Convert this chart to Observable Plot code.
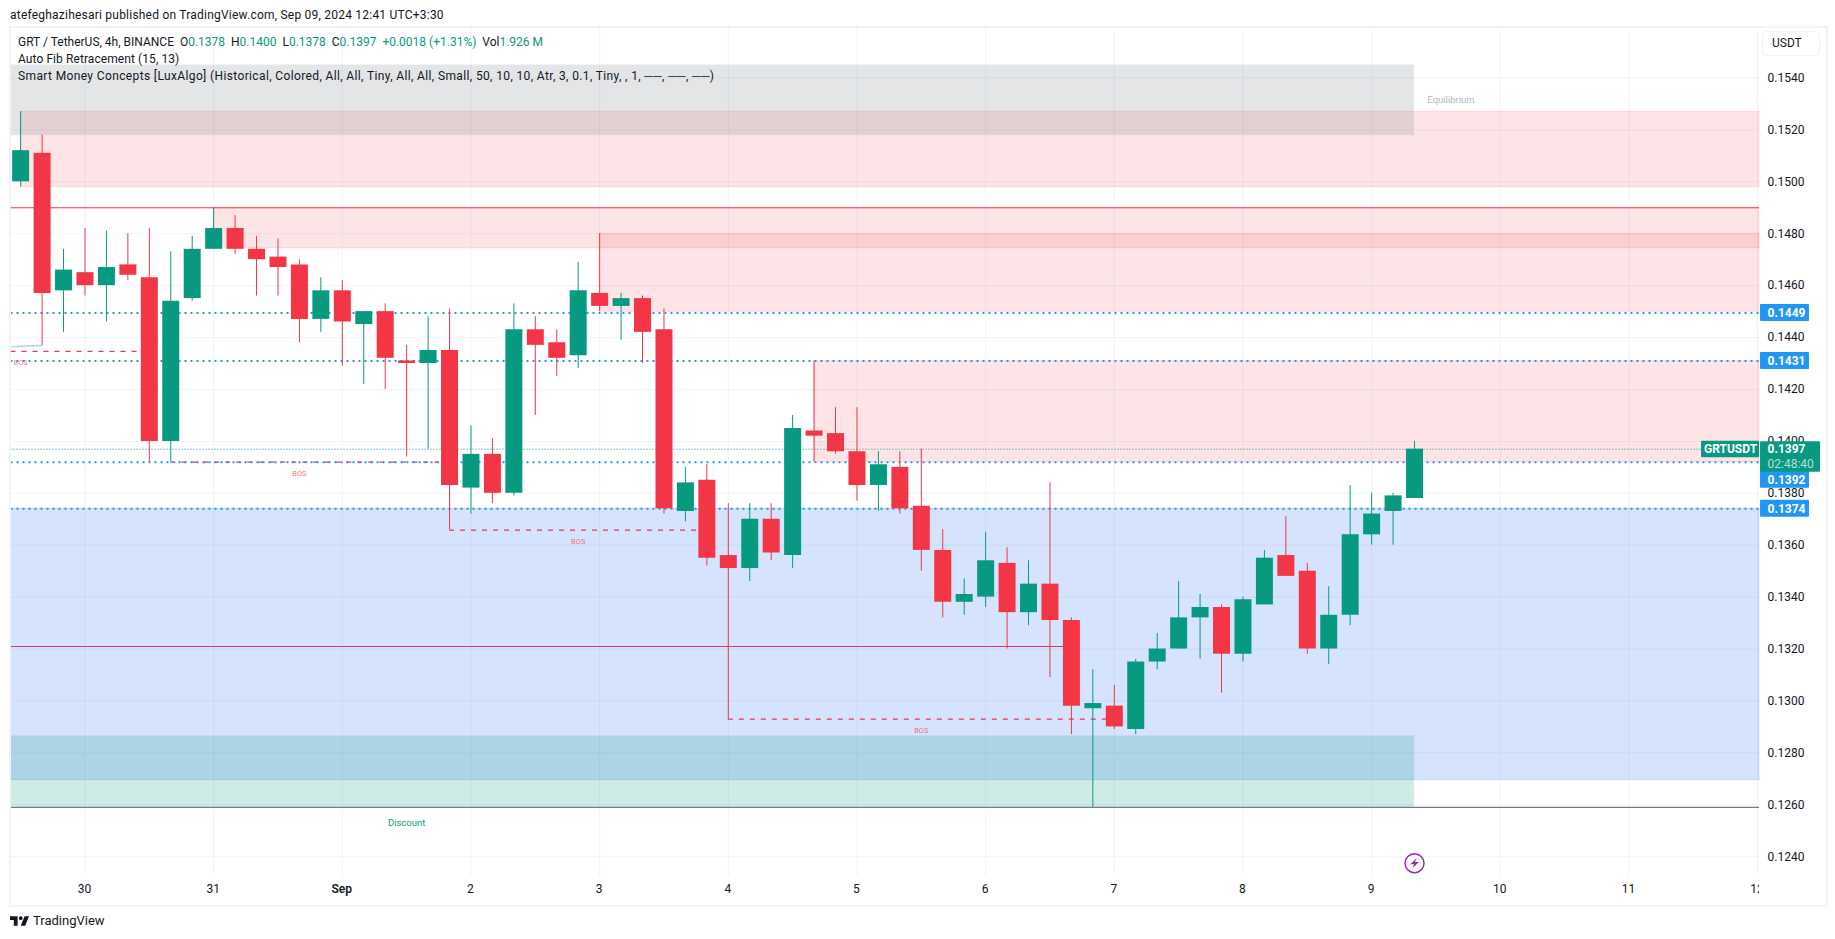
<!DOCTYPE html>
<html><head><meta charset="utf-8">
<script src="https://cdn.jsdelivr.net/npm/d3@7"></script>
<script src="https://cdn.jsdelivr.net/npm/@observablehq/plot@0.6"></script>
<style>
html,body{margin:0;padding:0;background:#fff;width:1835px;height:939px;overflow:hidden;font-family:Roboto,sans-serif;color:#131722}
#wrap{position:relative;width:1835px;height:939px}
#chart{position:absolute;left:0;top:0}
.ov{position:absolute;white-space:pre;font-size:12px;line-height:14px}
.g{color:#089981}
#frame{position:absolute;left:8.5px;top:26px;width:1815.5px;height:876.5px;border:2px solid #f0f3fa;pointer-events:none}
#usdt{position:absolute;left:1762px;top:31px;height:23px;width:47px;border:1.5px solid #f0f3fa;border-radius:4px;font-size:12px;line-height:23px;padding-left:9px;background:#fff}
#clip{position:absolute;left:1759px;top:878px;width:30px;height:24px;background:#fff}
</style></head><body>
<div id="wrap">
<div id="chart"></div>
<div id="frame"></div>
<div id="clip"></div>
<div class="ov" style="left:10px;top:8px;letter-spacing:.22px">atefeghazihesari published on TradingView.com, Sep 09, 2024 12:41 UTC+3:30</div>
<div class="ov" style="left:18px;top:35px">GRT / TetherUS, 4h, BINANCE  O<span class="g">0.1378</span>  H<span class="g">0.1400</span>  L<span class="g">0.1378</span>  C<span class="g">0.1397</span>  <span class="g">+0.0018 (+1.31%)</span>  Vol<span class="g">1.926 M</span></div>
<div class="ov" style="left:18px;top:52px;letter-spacing:.08px">Auto Fib Retracement (15, 13)</div>
<div class="ov" style="left:18px;top:69px;letter-spacing:.37px">Smart Money Concepts [LuxAlgo] (Historical, Colored, All, All, Tiny, All, All, Small, 50, 10, 10, Atr, 3, 0.1, Tiny, , 1, ──, ──, ──)</div>
<div id="usdt">USDT</div>
<svg style="position:absolute;left:10px;top:916px" width="19" height="10" viewBox="2 6 30 15"><path fill="#131722" d="M14 6H2v6h6v9h6V6Zm12 15h-7l6-15h7l-6 15Zm-7-9a3 3 0 1 0 0-6 3 3 0 0 0 0 6Z"/></svg>
<div class="ov" style="left:33px;top:913px;font-size:13px;line-height:16px">TradingView</div>
</div>
<script>
// 4h candles from 29 Aug 2024 12:00, prices in USDT
const opens  = [.1500,.1511,.1458,.1465,.1460,.1468,.1463,.1400,.1455,.1474,.1482,.1474,.1471,.1468,.1447,.1458,.1445,.1450,.1431,.1430,.1435,.1382,.1395,.1380,.1443,.1438,.1433,.1457,.1452,.1455,.1443,.1373,.1385,.1356,.1351,.1370,.1356,.1404,.1403,.1396,.1383,.1390,.1375,.1358,.1338,.1340,.1353,.1334,.1345,.1331,.1297,.1298,.1289,.1315,.1320,.1332,.1336,.1318,.1337,.1356,.1350,.1320,.1333,.1364,.1373,.1378];
const highs  = [.1527,.1518,.1474,.1482,.1481,.1480,.1482,.1473,.1479,.1490,.1487,.1479,.1478,.1470,.1463,.1462,.1450,.1453,.1437,.1448,.1451,.1406,.1401,.1453,.1448,.1443,.1469,.1480,.1457,.1456,.1451,.1390,.1391,.1376,.1376,.1376,.1410,.1431,.1413,.1413,.1396,.1396,.1397,.1366,.1347,.1365,.1359,.1354,.1384,.1332,.1312,.1306,.1316,.1326,.1346,.1341,.1337,.1340,.1358,.1371,.1353,.1344,.1383,.1380,.1380,.1400];
const lows   = [.1498,.1437,.1442,.1456,.1446,.1462,.1392,.1392,.1454,.1474,.1472,.1456,.1456,.1438,.1442,.1429,.1422,.1420,.1394,.1397,.1366,.1372,.1376,.1379,.1410,.1425,.1428,.1450,.1439,.1430,.1372,.1369,.1352,.1293,.1346,.1354,.1351,.1392,.1395,.1377,.1373,.1372,.1350,.1332,.1333,.1336,.1320,.1329,.1309,.1287,.1259,.1289,.1287,.1312,.1320,.1316,.1303,.1315,.1337,.1348,.1318,.1314,.1329,.1360,.1360,.1378];
const closes = [.1512,.1457,.1466,.1460,.1467,.1464,.1400,.1454,.1474,.1482,.1474,.1470,.1467,.1447,.1458,.1446,.1450,.1432,.1430,.1435,.1383,.1395,.1380,.1443,.1437,.1432,.1458,.1452,.1455,.1442,.1374,.1384,.1355,.1351,.1370,.1357,.1405,.1402,.1396,.1383,.1391,.1374,.1358,.1338,.1341,.1354,.1334,.1345,.1331,.1298,.1299,.1290,.1315,.1320,.1332,.1336,.1318,.1339,.1355,.1348,.1320,.1333,.1364,.1372,.1379,.1397];

// Smart Money Concepts overlay
const supplyStart = [0, 9, 27, 37];            // candle index where each red zone starts
const supplyTop   = [.1527, .1490, .1480, .1431];
const supplyBot   = [.1498, .14744, .14499, .1392];
const demandTop = .1374, demandBot = .12695;
const equilibriumTop = .1545, equilibriumBot = .15178;
const discountTop = .12865, discountBot = .1259;
const bosLevels = [.14347, .1392, .13658, .1293];
const bosFrom   = [-0.45, 7, 20, 33];
const bosTo     = [5.5, 20, 32, 51];
const bosLabelAt = [0, 13, 26, 42];
const swingIdx = [-0.4, 1];
const swingPrice = [.14365, .1437];
const levels = [.14495, .1431, .1392, .1374];
const levelLabels = ["0.1449", "0.1431", "0.1392", "0.1374"];
const levelNudge = [0, 0, 17.6, 0];   // the axis pushes a crowded label downward
const dayTicks = ["30","31","2","3","4","5","6","7","8","9","10","11","12"];
const dayDates = [[7,30],[7,31],[8,2],[8,3],[8,4],[8,5],[8,6],[8,7],[8,8],[8,9],[8,10],[8,11],[8,12]];
const priceTicks = d3.range(16).map(i => (1240 + i * 20) / 1e4);
const lastPrice = .1397;

const H4 = 4 * 36e5, DAY = 864e5;
const t0 = Date.UTC(2024, 7, 29, 12);
const T = i => new Date(t0 + i * H4);
const D = ([m, d]) => new Date(Date.UTC(2024, m, d));
const left = new Date(Date.UTC(2024, 7, 29, 10, 12));
const right = new Date(Date.UTC(2024, 8, 12, 0, 21));
const RED = "#f23645", GREEN = "#089981", BLUE = "#2196f3";
const pxPerMs = 128.7 / DAY;
const gutter = px => new Date(+D([8, 9]) + (px - 1371) / pxPerMs);      // price-axis column
const py = px => px / 25956;                                            // pixels to price

const candles = opens.map((o, i) => ({t: T(i), o, h: highs[i], l: lows[i], c: closes[i], col: closes[i] >= o ? GREEN : RED}));
const zones = supplyStart.map((s, i) => ({x1: T(s), x2: right, y1: supplyBot[i], y2: supplyTop[i]}));
const bos = bosLevels.map((y, i) => ({y, x1: T(bosFrom[i]), x2: T(bosTo[i]), lx: T(bosLabelAt[i])}));
const swing = swingIdx.map((s, i) => ({t: T(s), p: swingPrice[i]}));
const chips = levels.map((p, i) => ({p, label: levelLabels[i], y: p - py(levelNudge[i])}));

const bolt = {draw(c, s) { const r = Math.sqrt(s / Math.PI);
  c.moveTo(.24*r, -.55*r); c.lineTo(-.46*r, .12*r); c.lineTo(-.04*r, .12*r);
  c.lineTo(-.24*r, .55*r); c.lineTo(.46*r, -.12*r); c.lineTo(.04*r, -.12*r); c.closePath(); }};

const plot = Plot.plot({
  width: 1835, height: 939,
  marginLeft: 10.5, marginRight: 76, marginTop: 27.5, marginBottom: 63.5,
  x: {type: "utc", domain: [left, right], axis: null},
  y: {domain: [.154 - (876 - 78) / 25956, .154 + 50 / 25956], axis: null},
  style: {fontFamily: "Roboto, sans-serif", background: "transparent"},
  marks: [
    // grid
    Plot.ruleX(dayDates.map(D).concat([D([8, 1])]), {stroke: "#f0f3fa", strokeWidth: 1}),
    Plot.ruleY(priceTicks, {stroke: "#f0f3fa", strokeWidth: 1}),
    // zones
    Plot.rect(zones, {x1: "x1", x2: "x2", y1: "y1", y2: "y2", fill: RED, fillOpacity: .13, stroke: RED, strokeOpacity: .13}),
    Plot.rect([{}], {x1: () => left, x2: () => right, y1: () => demandBot, y2: () => demandTop, fill: "#3273f5", fillOpacity: .2, stroke: "#3273f5", strokeOpacity: .2}),
    Plot.rect([{}], {x1: () => left, x2: () => T(65), y1: () => discountBot, y2: () => discountTop, fill: GREEN, fillOpacity: .2}),
    Plot.rect([{}], {x1: () => left, x2: () => T(65), y1: () => equilibriumBot, y2: () => equilibriumTop, fill: "#787b86", fillOpacity: .2}),
    // structure lines
    Plot.ruleY([.1490], {stroke: RED, strokeWidth: 1}),
    Plot.ruleY([.1259], {stroke: "#787b86", strokeWidth: 1.2}),
    Plot.ruleY([.1321], {x1: () => left, x2: () => T(49), stroke: "#cf3c62", strokeWidth: 1.1}),
    Plot.ruleY(bos, {y: "y", x1: "x1", x2: "x2", stroke: "#e23a55", strokeWidth: 1.3, strokeDasharray: "5 6"}),
    Plot.line(swing, {x: "t", y: "p", stroke: GREEN, strokeOpacity: .35, strokeWidth: 1.6, strokeDasharray: "3 1"}),
    Plot.ruleY([lastPrice], {stroke: GREEN, strokeWidth: 1, strokeDasharray: "1 2"}),
    Plot.ruleY(levels, {stroke: BLUE, strokeWidth: 2, strokeDasharray: "2 4"}),
    // labels on the chart
    Plot.text(bos, {x: "lx", y: d => d.y - py(11.5), text: () => "BOS", fill: RED, fillOpacity: .7, fontSize: 7.5}),
    Plot.text(["Discount"], {x: () => T(18), y: () => .12531, text: d => d, fill: GREEN, fontSize: 9.5}),
    Plot.text(["Equilibrium"], {x: () => T(66.7), y: () => .15314, text: d => d, fill: "#b2b5be", fontSize: 9.5}),
    // candles
    Plot.ruleX(candles, {x: "t", y1: "l", y2: "h", stroke: "col", strokeWidth: 1}),
    Plot.ruleX(candles, {x: "t", y1: "o", y2: "c", stroke: "col", strokeWidth: 17}),
    // event marker
    Plot.dot([.12375], {x: () => T(65), y: d => d, r: 9.5, stroke: "#9c27b0", strokeWidth: 1.5, fill: "#fff"}),
    Plot.dot([.12375], {x: () => T(65), y: d => d, r: 9.5, symbol: bolt, fill: "#9c27b0", stroke: "none"}),
    // time axis
    Plot.text(dayDates.map(D), {x: d => d, frameAnchor: "bottom", dy: 13.5, dx: -.5, text: (d, i) => dayTicks[i], fontSize: 12, fill: "#131722", lineAnchor: "middle"}),
    Plot.text(["Sep"], {x: () => D([8, 1]), frameAnchor: "bottom", dy: 13.5, dx: -.5, text: d => d, fontSize: 12, fontWeight: 600, fill: "#131722", lineAnchor: "middle"}),
    // price axis
    Plot.axisY(priceTicks, {anchor: "right", tickSize: 0, tickPadding: 8, tickFormat: d => d.toFixed(4), fontSize: 12, fill: "#131722", color: "#131722", textAnchor: "start", label: null}),
    // level chips
    Plot.rect(chips, {x1: () => gutter(1760), x2: () => gutter(1809), y1: d => d.y - py(8.5), y2: d => d.y + py(8.5), fill: BLUE, rx: 1}),
    // last price chip
    Plot.rect([lastPrice], {x1: () => gutter(1760), x2: () => gutter(1820), y1: p => p - py(23), y2: p => p + py(7.5), fill: GREEN, rx: 1}),
    Plot.rect([lastPrice], {x1: () => gutter(1701), x2: () => gutter(1759), y1: p => p - py(8.5), y2: p => p + py(8), fill: GREEN, rx: 1}),
    Plot.text(chips, {x: () => gutter(1767), y: "y", text: "label", fill: "#fff", fontWeight: 700, fontSize: 12, textAnchor: "start"}),
    Plot.text([lastPrice], {x: () => gutter(1730), y: d => d, text: () => "GRTUSDT", fill: "#fff", fontWeight: 700, fontSize: 12}),
    Plot.text([lastPrice], {x: () => gutter(1767), y: d => d, text: d => d.toFixed(4), fill: "#fff", fontWeight: 700, fontSize: 12, textAnchor: "start"}),
    Plot.text([lastPrice], {x: () => gutter(1767), y: d => d - py(14.5), text: () => "02:48:40", fill: "#fff", fillOpacity: .7, fontSize: 12, textAnchor: "start"})
  ]
});
document.getElementById("chart").append(plot);
</script>
</body></html>
